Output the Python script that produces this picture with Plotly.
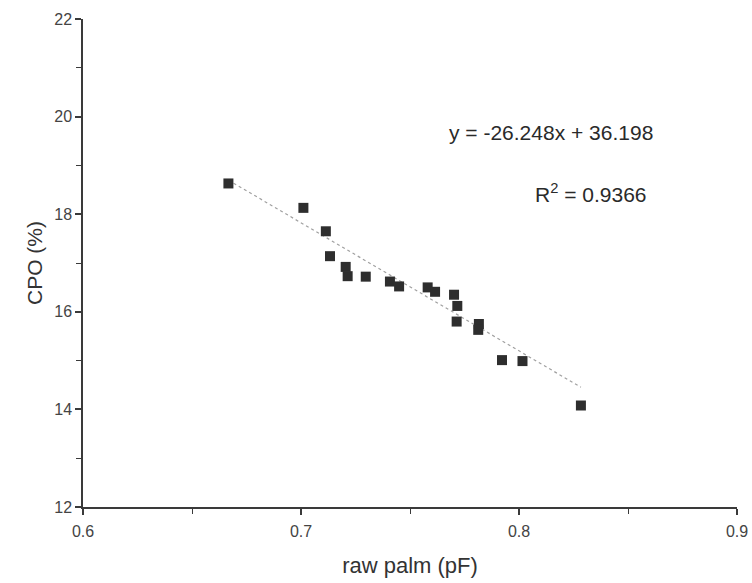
import plotly.graph_objects as go

# Data
raw_palm_pf = [0.6667, 0.7011, 0.7114, 0.7133, 0.7205, 0.7214, 0.7297, 0.7408, 0.7450,
               0.7581, 0.7615, 0.7702, 0.7717, 0.7714, 0.7816, 0.7813, 0.7922, 0.8016, 0.8284]
cpo_pct = [18.63, 18.13, 17.65, 17.14, 16.92, 16.73, 16.72, 16.62, 16.52,
           16.50, 16.41, 16.35, 16.12, 15.80, 15.75, 15.63, 15.01, 14.99, 14.08]

slope = -26.248
intercept = 36.198
r_squared = 0.9366

x_ticks = [0.6, 0.7, 0.8, 0.9]
y_ticks = [12, 14, 16, 18, 20, 22]

x_fit = [min(raw_palm_pf), max(raw_palm_pf)]
y_fit = [slope * v + intercept for v in x_fit]

font_family = "Liberation Sans, Arial, sans-serif"

fig = go.Figure()
fig.add_trace(go.Scatter(x=x_fit, y=y_fit, mode="lines",
                         line=dict(color="#a0a0a0", width=1.2, dash="dot"),
                         hoverinfo="skip", showlegend=False))
fig.add_trace(go.Scatter(x=raw_palm_pf, y=cpo_pct, mode="markers",
                         marker=dict(symbol="square", size=10, color="#2e2e2e",
                                     line=dict(width=0)),
                         showlegend=False))

fig.add_annotation(x=0.8146, y=19.67, xref="x", yref="y",
                   text=f"y = {slope}x + {intercept}", showarrow=False,
                   font=dict(family=font_family, size=21, color="#2a2a2a"))
fig.add_annotation(x=0.833, y=18.43, xref="x", yref="y",
                   text=f"R<sup>2</sup> = {r_squared}", showarrow=False,
                   font=dict(family=font_family, size=21, color="#2a2a2a"))

axis_common = dict(showgrid=False, zeroline=False, showline=True, automargin=False,
                   linecolor="#3a3a3a", linewidth=1.5,
                   ticks="outside", ticklen=6, tickwidth=1.5, tickcolor="#3a3a3a",
                   tickfont=dict(family=font_family, size=16, color="#444444"),
                   mirror=False)

fig.update_xaxes(range=[0.6, 0.9], tickvals=x_ticks, ticktext=[f"{v:.1f}" for v in x_ticks],
                 title=dict(text="raw palm (pF)", standoff=19,
                            font=dict(family=font_family, size=22, color="#333333")),
                 minor=dict(dtick=0.05, ticks="outside", ticklen=5, tickwidth=1.2,
                            tickcolor="#3a3a3a"),
                 ticklabelstandoff=3,
                 **axis_common)
fig.update_yaxes(range=[12, 22], tickvals=y_ticks, ticktext=[str(v) for v in y_ticks],
                 title=dict(text="CPO (%)", standoff=6,
                            font=dict(family=font_family, size=21, color="#333333")),
                 minor=dict(dtick=1, ticks="outside", ticklen=5, tickwidth=1.2,
                            tickcolor="#3a3a3a"),
                 ticklabelstandoff=0,
                 **axis_common)

fig.update_layout(width=752, height=583, plot_bgcolor="white", paper_bgcolor="white",
                  margin=dict(l=83, r=15, t=19, b=76), showlegend=False)

fig.write_html("out.html", config={"displayModeBar": False},
               post_script="document.body.style.margin='0';document.body.style.overflow='hidden';")
